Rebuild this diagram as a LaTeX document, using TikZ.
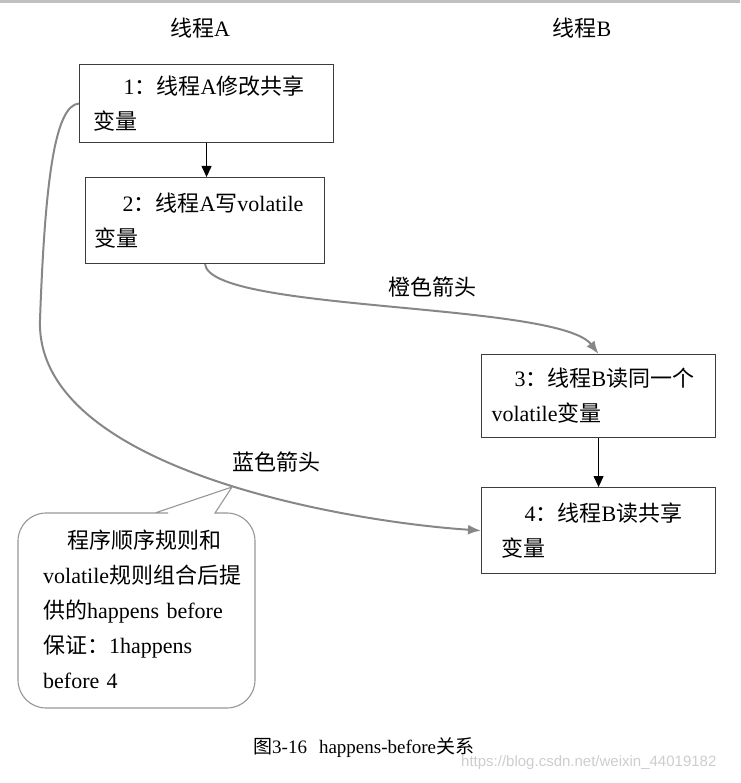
\documentclass[tikz,border=0pt]{standalone}
\usepackage{fontspec}
\setmainfont{Liberation Serif}
\newfontfamily\cjk{Noto Sans CJK SC}
\newfontfamily\wmfont{Liberation Sans}
\newcommand\zh[1]{{\cjk #1}}
\usetikzlibrary{arrows.meta}
\definecolor{linegray}{RGB}{135,135,135}
\definecolor{boxline}{RGB}{60,60,60}
\definecolor{calloutline}{RGB}{150,150,150}
\definecolor{topbar}{RGB}{192,192,192}
\definecolor{wm}{RGB}{205,205,205}
\begin{document}
\begin{tikzpicture}[x=1pt,y=-1pt,
  txt/.style={font=\fontsize{22}{35}\selectfont, inner sep=0pt},
  box/.style={draw=boxline, line width=1.1pt, anchor=north west, align=left,
    font=\fontsize{22}{35}\selectfont, inner ysep=0pt},
  blackarrow/.style={draw=black, line width=1pt, -{Triangle[length=11pt,width=10pt]}},
  grayarrow/.style={draw=linegray, line width=2pt, -{Latex[length=13pt,width=10pt]}},
  callout/.style={draw=calloutline, line width=1.1pt}
]
\useasboundingbox (0,0) rectangle (740,783);
\fill[topbar] (0,0) rectangle (740,3);

% thread titles
\node[txt] (ta) at (200,28) {\zh{线程}A};
\node[txt] (tb) at (582,28) {\zh{线程}B};

% boxes
\node[box, minimum width=254pt, minimum height=78pt, text width=226pt, inner xsep=14pt] (b1) at (79,64)
  {\hspace*{30pt}1\zh{：线程}A\zh{修改共享}\\\zh{变量}};
\node[box, minimum width=239pt, minimum height=86pt, text width=221pt, inner xsep=9pt] (b2) at (85,177)
  {\hspace*{28pt}2\zh{：线程}A\zh{写}volatile\\\zh{变量}};
\node[box, minimum width=234pt, minimum height=83pt, text width=214pt, inner xsep=10pt] (b3) at (481,354)
  {\hspace*{23pt}3\zh{：线程}B\zh{读同一个}\\volatile\zh{变量}};
\node[box, minimum width=234pt, minimum height=86pt, text width=194pt, inner xsep=20pt] (b4) at (481,487)
  {\hspace*{23pt}4\zh{：线程}B\zh{读共享}\\\zh{变量}};

% straight arrows
\draw[blackarrow] (b1.south) -- (b1.south |- b2.north);
\draw[blackarrow] (b3.south) -- (b3.south |- b4.north);

% orange arrow
\draw[grayarrow] (b2.south) .. controls +(5,48) and +(-40,-52) .. (b3.north);
\node[txt] (lo) at (432,287) {\zh{橙色箭头}};

% blue arrow
\coordinate (bend) at (40,320);
\draw[grayarrow] (b1.west) .. controls (55,105) and (45,180) .. (bend)
  .. controls (35,470) and (350,522) .. (b4.west);
\node[txt] (lb) at (276,462) {\zh{蓝色箭头}};

% callout
\coordinate (tip) at (232,487);
\draw[callout] (tip) -- (215,513) -- (227,513) [rounded corners=28pt] -- (255,513) -- (255,708)
  -- (18,708) -- (18,513) -- (140,513) [sharp corners] -- (155,513) -- cycle;
\node[txt, anchor=north west, align=left, text width=210pt] (ct) at (43,530)
  {\hspace*{24pt}\zh{程序顺序规则和}\\volatile\zh{规则组合后提}\\\zh{供的}happens before\\\zh{保证：}1happens\\before 4};

% caption
\node[font=\fontsize{19}{21}\selectfont, inner sep=0pt, anchor=west] (cap) at (253,748)
  {\zh{图}3-16\hspace{12pt}happens-before\zh{关系}};
\node[font=\wmfont\fontsize{15}{17}\selectfont, text=wm, inner sep=0pt, anchor=west] (wmk) at (461,763)
  {https://blog.csdn.net/weixin\_44019182};
\end{tikzpicture}
\end{document}
